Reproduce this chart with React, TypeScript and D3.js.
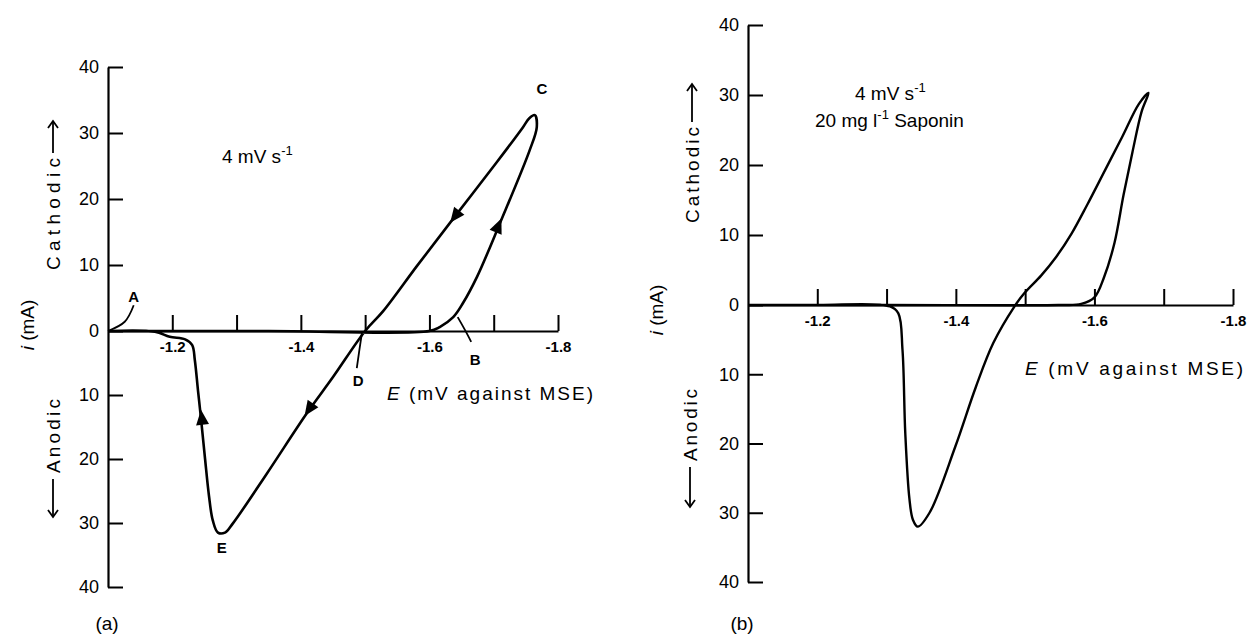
import React, { useEffect, useRef } from "react";
import * as d3 from "d3";

type Pt = [number, number];

// Panel (a): potential E (V vs MSE), current i (mA, cathodic positive)
const loopA: Pt[] = [
  [-1.1, 0], [-1.35, 0], [-1.6, 0], [-1.616, 0.6], [-1.637, 2.1], [-1.652, 4.2],
  [-1.674, 8.2], [-1.71, 16.4], [-1.756, 27.4], [-1.767, 30.9], [-1.764, 32.7],
  [-1.755, 32.2], [-1.745, 30.8], [-1.705, 25.6], [-1.64, 17.4], [-1.581, 9.9],
  [-1.528, 3.0], [-1.5, 0], [-1.45, -7.2], [-1.409, -12.9], [-1.347, -22.3],
  [-1.294, -30.1], [-1.282, -31.5], [-1.271, -31.5], [-1.263, -29.6], [-1.257, -25.7],
  [-1.251, -20], [-1.245, -14], [-1.24, -9.3], [-1.235, -4.5], [-1.231, -2.2],
  [-1.22, -1.3], [-1.196, -0.9], [-1.173, -0.1], [-1.1, 0],
];
const arrowsA: Pt[] = [[-1.64, 17.4], [-1.707, 15.9], [-1.413, -12.2], [-1.246, -13.6]];

// Panel (b): with 20 mg/l saponin
const loopB: Pt[] = [
  [-1.1, 0], [-1.3, 0], [-1.548, 0], [-1.581, 0.15], [-1.6, 1.1], [-1.614, 4.0],
  [-1.629, 8.9], [-1.642, 15.7], [-1.655, 21.9], [-1.668, 27.6], [-1.678, 30.3],
  [-1.664, 28.7], [-1.64, 24.0], [-1.615, 19.2], [-1.59, 14.4], [-1.567, 10.2],
  [-1.545, 6.9], [-1.523, 4.2], [-1.499, 1.7], [-1.484, -0.3], [-1.454, -5.5],
  [-1.429, -11.8], [-1.399, -20.5], [-1.362, -30.0], [-1.345, -32.0], [-1.338, -31.0],
  [-1.333, -28.0], [-1.327, -18.5], [-1.323, -6.5], [-1.317, -1.2], [-1.305, -0.2],
  [-1.2, 0], [-1.1, 0],
];

const yTicks = [-40, -30, -20, -10, 0, 10, 20, 30, 40];
const xTicks = [-1.2, -1.3, -1.4, -1.5, -1.6, -1.7, -1.8];
const eDomain = [-1.1, -1.8];
const iDomain = [-40, 0, 40];

// point labels (data coords)
const labelsA: { t: string; p: Pt }[] = [
  { t: "A", p: [-1.14, 5.3] },
  { t: "B", p: [-1.671, -4.5] },
  { t: "C", p: [-1.775, 36.7] },
  { t: "D", p: [-1.489, -7.7] },
  { t: "E", p: [-1.277, -33.9] },
];
const leadersA: Pt[][] = [
  [[-1.1, 0], [-1.126, 1.4], [-1.14, 3.9]],
  [[-1.644, 2.1], [-1.655, 0.2], [-1.665, -1.7]],
  [[-1.495, -0.3], [-1.491, -3], [-1.487, -5.8]],
];

const FONT = "'Liberation Sans', 'DejaVu Sans', sans-serif";

function Axes({ xs, ys }: { xs: any; ys: any }) {
  const gx = useRef<SVGGElement>(null);
  const gy = useRef<SVGGElement>(null);
  useEffect(() => {
    const ax = d3
      .axisBottom(xs)
      .tickValues(xTicks)
      .tickSizeInner(-16)
      .tickSizeOuter(0)
      .tickPadding(10)
      .tickFormat((d: any) => (Math.round(d * 10) % 2 === 0 ? (+d).toFixed(1) : ""));
    const g = d3.select(gx.current!);
    g.call(ax as any);
    g.select(".domain").attr("stroke-width", 2.2);
    g.selectAll(".tick line").attr("stroke-width", 2);
    g.selectAll(".tick text")
      .attr("font-size", 15)
      .attr("font-weight", "bold")
      .attr("font-family", FONT);
    const ay = d3
      .axisLeft(ys)
      .tickValues(yTicks)
      .tickSizeInner(-15)
      .tickSizeOuter(0)
      .tickPadding(9)
      .tickFormat((d: any) => String(Math.abs(d)));
    const h = d3.select(gy.current!);
    h.call(ay as any);
    h.select(".domain").attr("stroke-width", 2.2);
    h.selectAll(".tick line").attr("stroke-width", 2);
    h.selectAll(".tick text").attr("font-size", 18).attr("font-family", FONT);
  }, [xs, ys]);
  return (
    <g>
      <g ref={gx} transform={`translate(0,${ys(0)})`} />
      <g ref={gy} transform={`translate(${xs(-1.1)},0)`} />
    </g>
  );
}

function arrowPath(loop: Pt[], p: Pt, xs: any, ys: any) {
  const px = xs(p[0]);
  const py = ys(p[1]);
  let best = 1;
  let bd = Infinity;
  for (let k = 1; k < loop.length - 1; k++) {
    const d = Math.hypot(xs(loop[k][0]) - px, ys(loop[k][1]) - py);
    if (d < bd) {
      bd = d;
      best = k;
    }
  }
  const a = loop[best - 1];
  const b = loop[best + 1];
  let dx = xs(b[0]) - xs(a[0]);
  let dy = ys(b[1]) - ys(a[1]);
  const L = Math.hypot(dx, dy);
  dx /= L;
  dy /= L;
  const len = 15;
  const w = 6.5;
  const tip = [px + dx * len * 0.55, py + dy * len * 0.55];
  const base = [px - dx * len * 0.45, py - dy * len * 0.45];
  const l = [base[0] - dy * w, base[1] + dx * w];
  const r = [base[0] + dy * w, base[1] - dx * w];
  return `M${tip[0]},${tip[1]}L${l[0]},${l[1]}L${r[0]},${r[1]}Z`;
}

function VArrowLabel({
  x, yStart, arrowLen, text, textLen, up, size,
}: { x: number; yStart: number; arrowLen: number; text: string; textLen: number; up: boolean; size: number }) {
  if (up) {
    const gap = 5;
    return (
      <g transform={`translate(${x},${yStart}) rotate(-90)`}>
        <text x={0} y={0} dominantBaseline="central" fontSize={size} fontFamily={FONT}
          textLength={textLen} lengthAdjust="spacing">{text}</text>
        <line x1={textLen + gap} y1={0} x2={textLen + gap + arrowLen} y2={0} stroke="#000" strokeWidth={1.8} />
        <path d={`M${textLen + gap + arrowLen - 7},-5 L${textLen + gap + arrowLen},0 L${textLen + gap + arrowLen - 7},5`}
          fill="none" stroke="#000" strokeWidth={1.8} />
      </g>
    );
  }
  const gap = 6;
  return (
    <g transform={`translate(${x},${yStart}) rotate(-90)`}>
      <line x1={0} y1={0} x2={arrowLen} y2={0} stroke="#000" strokeWidth={1.8} />
      <path d={`M7,-5 L0,0 L7,5`} fill="none" stroke="#000" strokeWidth={1.8} />
      <text x={arrowLen + gap} y={0} dominantBaseline="central" fontSize={size} fontFamily={FONT}
        textLength={textLen} lengthAdjust="spacing">{text}</text>
    </g>
  );
}

function RotLabel({ x, y, size }: { x: number; y: number; size: number }) {
  return (
    <text transform={`translate(${x},${y}) rotate(-90)`} textAnchor="middle" dominantBaseline="central"
      fontSize={size} fontFamily={FONT}>
      <tspan fontStyle="italic">i</tspan> (mA)
    </text>
  );
}

export default function App() {
  const xsA = d3.scaleLinear().domain(eDomain).range([108, 558]);
  const ysA = d3.scaleLinear().domain(iDomain).range([587, 331, 67]);
  const xsB = d3.scaleLinear().domain(eDomain).range([748, 1233]);
  const ysB = d3.scaleLinear().domain(iDomain).range([582, 305, 25]);

  const lineA = d3.line<Pt>().x((d) => xsA(d[0])).y((d) => ysA(d[1])).curve(d3.curveCatmullRom.alpha(0.5));
  const lineB = d3.line<Pt>().x((d) => xsB(d[0])).y((d) => ysB(d[1])).curve(d3.curveCatmullRom.alpha(0.5));
  const leader = d3.line<Pt>().x((d) => xsA(d[0])).y((d) => ysA(d[1])).curve(d3.curveNatural);

  return (
    <svg width={1253} height={635} style={{ position: "absolute", left: 0, top: 0, background: "#fff" }}>
      <rect width={1253} height={635} fill="#fff" />
      {/* Panel (a) */}
      <Axes xs={xsA} ys={ysA} />
      <path d={lineA(loopA) || ""} fill="none" stroke="#000" strokeWidth={2.6} strokeLinejoin="round" />
      {arrowsA.map((p, k) => (
        <path key={k} d={arrowPath(loopA, p, xsA, ysA)} fill="#000" />
      ))}
      {leadersA.map((l, k) => (
        <path key={k} d={leader(l) || ""} fill="none" stroke="#000" strokeWidth={1.8} />
      ))}
      {labelsA.map((l) => (
        <text key={l.t} x={xsA(l.p[0])} y={ysA(l.p[1])} textAnchor="middle" dominantBaseline="central"
          fontSize={15} fontWeight="bold" fontFamily={FONT}>{l.t}</text>
      ))}
      <text x={222} y={163} fontSize={19} fontFamily={FONT}>
        4 mV s<tspan dy={-8} fontSize={13}>-1</tspan>
      </text>
      <text x={387} y={400} fontSize={19} fontFamily={FONT} textLength={206} lengthAdjust="spacing">
        <tspan fontStyle="italic">E</tspan> (mV against MSE)
      </text>
      <VArrowLabel x={53} yStart={270} arrowLen={32} text="Cathodic" textLen={112} up={true} size={19} />
      <VArrowLabel x={53} yStart={517} arrowLen={38} text="Anodic" textLen={74} up={false} size={19} />
      <RotLabel x={27} y={325} size={19} />
      <text x={107} y={630} textAnchor="middle" fontSize={19} fontFamily={FONT}>(a)</text>

      {/* Panel (b) */}
      <Axes xs={xsB} ys={ysB} />
      <path d={lineB(loopB) || ""} fill="none" stroke="#000" strokeWidth={2.4} strokeLinejoin="round" />
      <text x={855} y={100} fontSize={19} fontFamily={FONT}>
        4 mV s<tspan dy={-8} fontSize={13}>-1</tspan>
      </text>
      <text x={815} y={127} fontSize={19} fontFamily={FONT}>
        20 mg l<tspan dy={-8} fontSize={13}>-1</tspan><tspan dy={8}> Saponin</tspan>
      </text>
      <text x={1025} y={375} fontSize={19} fontFamily={FONT} textLength={218} lengthAdjust="spacing">
        <tspan fontStyle="italic">E</tspan> (mV against MSE)
      </text>
      <VArrowLabel x={692} yStart={223} arrowLen={38} text="Cathodic" textLen={96} up={true} size={19} />
      <VArrowLabel x={690} yStart={507} arrowLen={40} text="Anodic" textLen={72} up={false} size={19} />
      <RotLabel x={656} y={310} size={19} />
      <text x={742} y={630} textAnchor="middle" fontSize={19} fontFamily={FONT}>(b)</text>
    </svg>
  );
}
